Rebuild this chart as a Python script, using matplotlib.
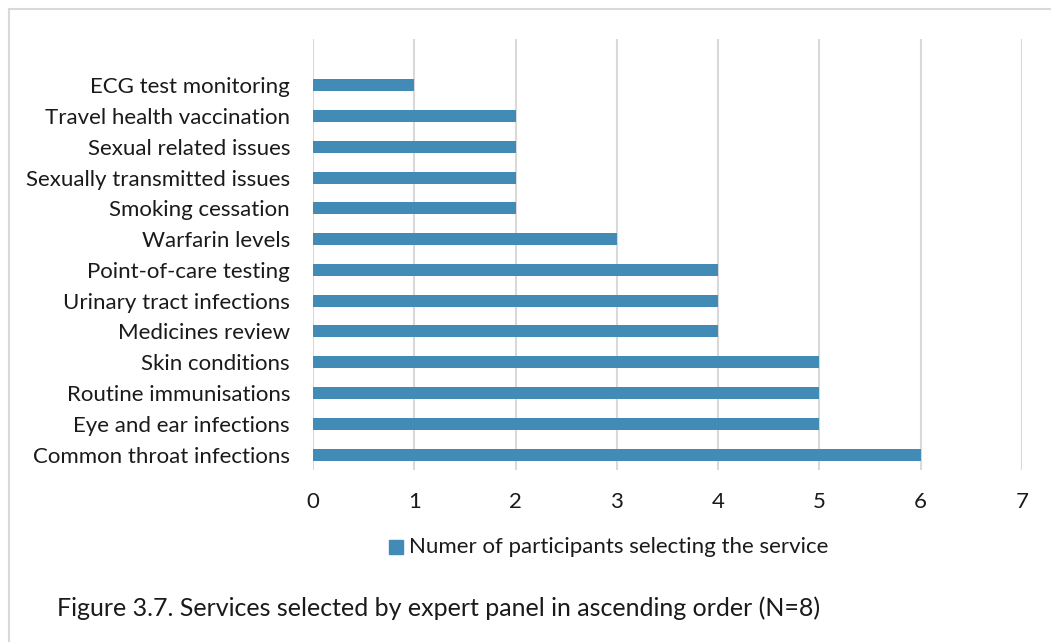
import matplotlib.pyplot as plt
from matplotlib.patches import Rectangle

# Services and how many panel members picked each one (bottom to top)
services = [
    "Common throat infections",
    "Eye and ear infections",
    "Routine immunisations",
    "Skin conditions",
    "Medicines review",
    "Urinary tract infections",
    "Point-of-care testing",
    "Warfarin levels",
    "Smoking cessation",
    "Sexually transmitted issues",
    "Sexual related issues",
    "Travel health vaccination",
    "ECG test monitoring",
]
counts = [6, 5, 5, 5, 4, 4, 4, 3, 2, 2, 2, 2, 1]
x_ticks = [0, 1, 2, 3, 4, 5, 6, 7]

bar_color = "#428BB6"
grid_color = "#D9D9D9"
text_color = "#1A1A1A"

plt.rcParams["font.family"] = ["Lato", "DejaVu Sans"]

fig = plt.figure(figsize=(10.51, 6.42), dpi=100)
ax = fig.add_axes([0.2978, 0.2679, 0.6746, 0.6714])

pos = list(range(len(services)))
ax.barh(pos, counts, height=0.39, color=bar_color, zorder=3)

ax.set_xlim(0, 7)
ax.set_ylim(-0.5, len(services) + 0.5)
ax.set_xticks(x_ticks)
ax.set_xticklabels([str(t) for t in x_ticks], fontsize=16, color=text_color)
ax.set_yticks(pos)
ax.set_yticklabels(services, fontsize=16, color=text_color)
ax.tick_params(axis="both", length=0)
ax.tick_params(axis="x", pad=16)
ax.tick_params(axis="y", pad=16.5)

ax.grid(axis="x", color=grid_color, linewidth=1.5, zorder=0)
for s in ax.spines.values():
    s.set_visible(False)

# legend entry below the axis
fig.patches.append(Rectangle((389 / 1051, 1 - 554 / 642), 14 / 1051, 14 / 642,
                             transform=fig.transFigure, color=bar_color))
fig.text(409 / 1051, 1 - 547 / 642, "Numer of participants selecting the service",
         fontsize=16, color=text_color, va="center", ha="left")

# outer frame
fig.patches.append(Rectangle((9 / 1051, -0.05), 1.1, 1 - 9 / 642 + 0.05,
                             transform=fig.transFigure, fill=False,
                             edgecolor="#D9D9D9", linewidth=1.5))

fig.text(57 / 1051, 1 - 608 / 642,
         "Figure 3.7. Services selected by expert panel in ascending order (N=8)",
         fontsize=18, color=text_color, va="center", ha="left")

fig.savefig("out.png", dpi=100)
